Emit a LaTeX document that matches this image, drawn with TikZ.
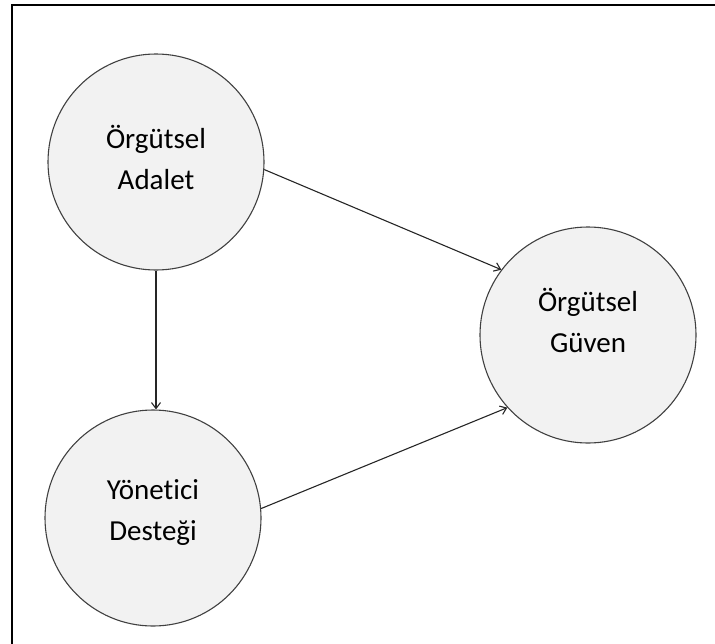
\documentclass[tikz,border=0pt]{standalone}
\usepackage{fontspec}
\setmainfont{Carlito}[Ligatures=NoCommon]
\usetikzlibrary{arrows.meta}
\definecolor{circfill}{HTML}{F2F2F2}
\definecolor{circline}{HTML}{404040}
\begin{document}
\begin{tikzpicture}[x=1pt,y=-1pt,
  concept/.style={circle,draw=circline,fill=circfill,line width=1.1pt,minimum size=216pt,inner sep=0pt},
  ctext/.style={align=center,font=\fontsize{29}{41}\selectfont,inner sep=0pt},
  conn/.style={draw=black!85,line width=1.1pt,-{Straight Barb[length=6pt,width=9pt]}},
  frame/.style={draw=black,line width=2pt}]
\useasboundingbox (0,0) rectangle (715,643);
\coordinate (ftl) at (11.5,4.5);
\coordinate (ftr) at (716,4.5);
\coordinate (fbl) at (11.5,644);
\draw[frame] (ftr) -- (ftl) -- (fbl);
\node[concept,label={[ctext,yshift=5pt]center:Örgütsel\\Adalet}] (A) at (156,162) {};
\node[concept,label={[ctext,yshift=15pt]center:Örgütsel\\Güven}] (G) at (588,335) {};
\node[concept,label={[ctext,yshift=5pt]center:Yönetici\\Desteği}] (D) at (153,518) {};
\draw[conn] (A.-4) -- (G.143);
\draw[conn] (D.5) -- (G.222);
\draw[conn] (A.south) -- (A.south |- D.north);
\end{tikzpicture}
\end{document}
